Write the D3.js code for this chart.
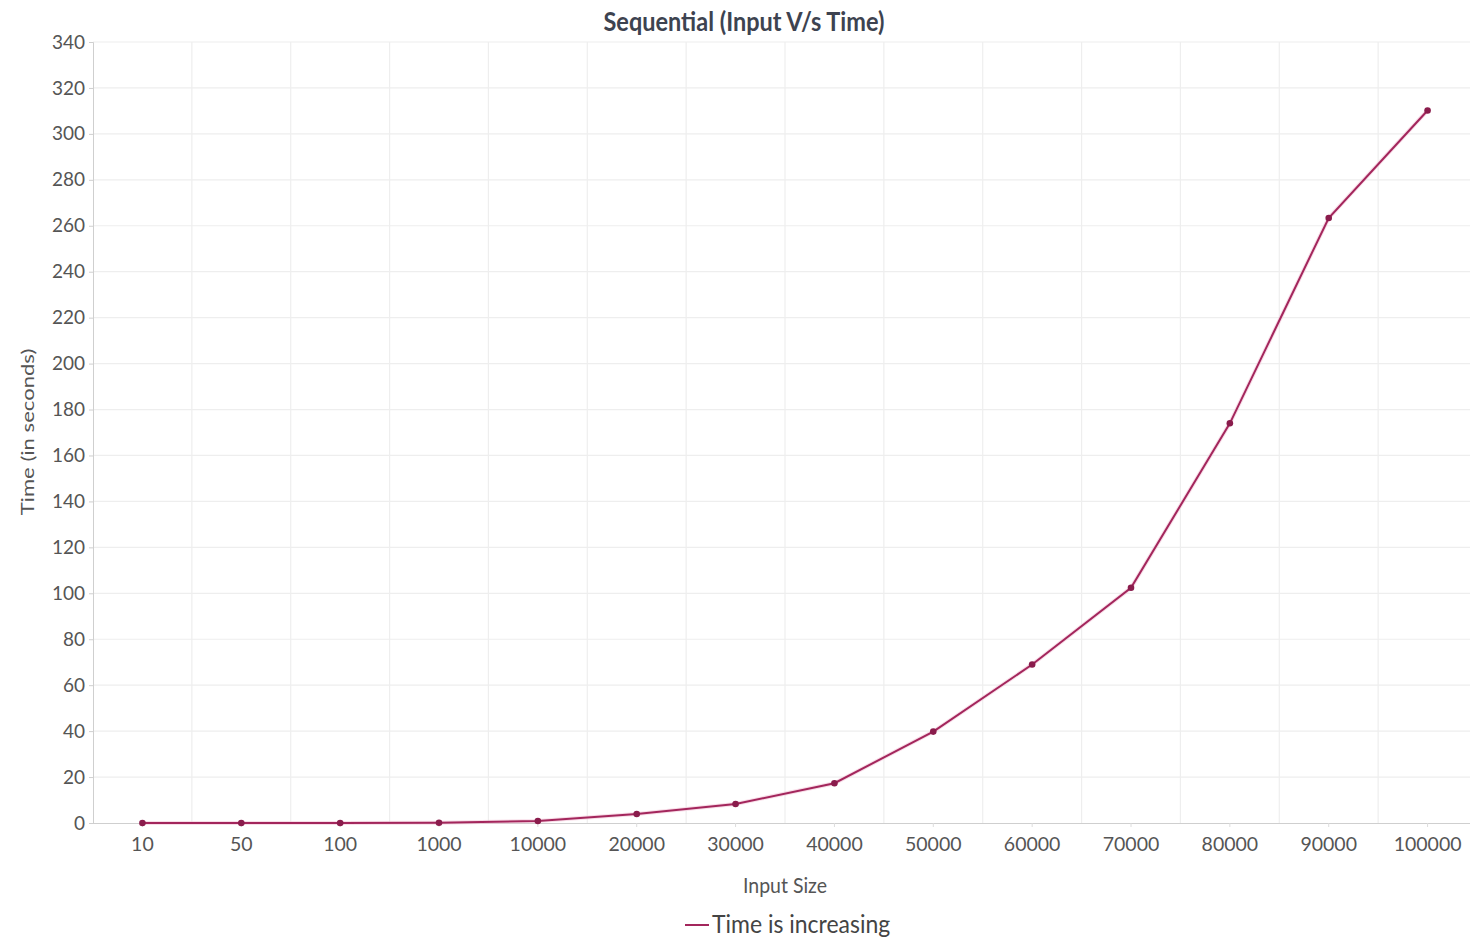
<!DOCTYPE html>
<html>
<head>
<meta charset="utf-8">
<script src="https://cdn.jsdelivr.net/npm/d3@7"></script>
<style>
  html, body { margin: 0; padding: 0; background: #fff; }
  svg { display: block; }
  text { font-family: Lato, "Open Sans", sans-serif; }
</style>
</head>
<body>
<svg id="chart" width="1470" height="939"></svg>
<script>
const categories = ["10", "50", "100", "1000", "10000", "20000", "30000", "40000", "50000", "60000", "70000", "80000", "90000", "100000"];
const timeValues = [0, 0, 0, 0.1, 0.9, 3.9, 8.3, 17.3, 39.8, 69, 102.4, 174, 263.4, 310.2];
const yTicks = [0, 20, 40, 60, 80, 100, 120, 140, 160, 180, 200, 220, 240, 260, 280, 300, 320, 340];
const seriesName = "Time is increasing";
const chartTitle = "Sequential (Input V/s Time)";
const xTitle = "Input Size";
const yTitle = "Time (in seconds)";

(function () {
const W = 1470, H = 939;
const mLeft = 93, mRight = 1477, mTop = 42, mBottom = 823;
const lineColor = "#a3265c";
const markerColor = "#8a1c4c";

const svg = d3.select("#chart");

const x = d3.scaleBand().domain(categories).range([mLeft, mRight]).paddingInner(0).paddingOuter(0);
const y = d3.scaleLinear().domain([0, 340]).range([mBottom, mTop]);

// horizontal grid
svg.append("g").selectAll("line").data(yTicks.slice(1)).join("line")
  .attr("x1", mLeft).attr("x2", W)
  .attr("y1", d => y(d)).attr("y2", d => y(d))
  .attr("stroke", "#eeeeee").attr("stroke-width", 1.2);

// vertical grid at band boundaries
svg.append("g").selectAll("line").data(categories.slice(1)).join("line")
  .attr("x1", d => x(d)).attr("x2", d => x(d))
  .attr("y1", mTop).attr("y2", mBottom)
  .attr("stroke", "#eeeeee").attr("stroke-width", 1.2);

// y axis
const yAxis = d3.axisLeft(y).tickValues(yTicks).tickSize(4).tickPadding(4);
const gy = svg.append("g").attr("transform", `translate(${mLeft},0)`).call(yAxis);
gy.select(".domain").attr("stroke", "#cfcfcf");
gy.selectAll(".tick line").attr("stroke", "#cfcfcf");
gy.selectAll(".tick text").attr("fill", "#555").style("font-size", "19px").style("font-family", "Lato, sans-serif");

// x axis
const xAxis = d3.axisBottom(x).tickSize(4).tickPadding(10);
const gx = svg.append("g").attr("transform", `translate(0,${mBottom})`).call(xAxis);
gx.select(".domain").attr("stroke", "#cfcfcf").attr("d", `M${mLeft},0.5H${W}`);
gx.selectAll(".tick line").attr("stroke", "#dcdcdc");
gx.selectAll(".tick text").attr("fill", "#555").style("font-size", "19.5px").style("font-family", "Lato, sans-serif");

// line
const line = d3.line()
  .x((d, i) => x(categories[i]) + x.bandwidth() / 2)
  .y(d => y(d));

svg.append("path").datum(timeValues)
  .attr("fill", "none").attr("stroke", "#f3c6d8").attr("stroke-width", 4).attr("opacity", 0.6)
  .attr("d", line);
svg.append("path").datum(timeValues)
  .attr("fill", "none").attr("stroke", lineColor).attr("stroke-width", 2)
  .attr("d", line);

svg.append("g").selectAll("circle").data(timeValues).join("circle")
  .attr("cx", (d, i) => x(categories[i]) + x.bandwidth() / 2)
  .attr("cy", d => y(d))
  .attr("r", 3.3)
  .attr("fill", markerColor);

// title
svg.append("text")
  .attr("transform", "translate(744,31) scale(1,1.12)")
  .attr("text-anchor", "middle")
  .attr("fill", "#3d4350")
  .style("font-size", "23.5px").style("font-weight", "bold")
  .text(chartTitle);

// x title
svg.append("text")
  .attr("transform", `translate(${(mLeft + mRight) / 2},893) scale(1,1.12)`)
  .attr("text-anchor", "middle")
  .attr("fill", "#555")
  .style("font-size", "19.5px")
  .text(xTitle);

// y title
svg.append("text")
  .attr("transform", `translate(34,432) rotate(-90) scale(1.3,1)`)
  .attr("text-anchor", "middle")
  .attr("fill", "#555")
  .style("font-size", "17px")
  .text(yTitle);

// legend
const lg = svg.append("g");
lg.append("line").attr("x1", 685).attr("x2", 709).attr("y1", 925).attr("y2", 925)
  .attr("stroke", lineColor).attr("stroke-width", 2);
lg.append("text").attr("transform", "translate(712,933) scale(1,1.1)")
  .attr("fill", "#444")
  .style("font-size", "23px")
  .text(seriesName);
})();
</script>
</body>
</html>
